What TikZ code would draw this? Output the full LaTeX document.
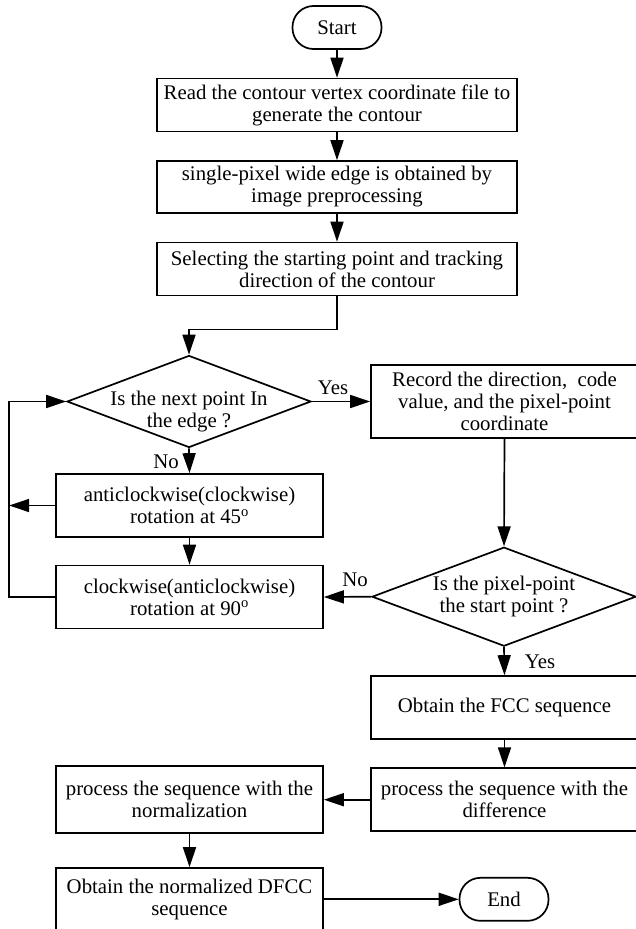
\documentclass[tikz,border=0pt]{standalone}
\usepackage{fontspec}
\setmainfont{Liberation Serif}
\usetikzlibrary{shapes,arrows.meta,positioning,calc}
\newcommand{\flowfont}{\fontsize{20.8}{22}\selectfont}
\tikzset{
  >={Triangle[length=20pt,width=13pt]},
  box/.style={draw,rectangle,minimum width=267pt,align=center,inner sep=2pt,font=\flowfont},
  wbox/.style={box,minimum width=360pt},
  dec/.style={draw,diamond,aspect=2.65,inner sep=-10pt,align=center,font=\flowfont},
  term/.style={draw,rounded corners=21pt,minimum width=89pt,minimum height=43pt,font=\flowfont},
  lbl/.style={font=\flowfont,inner sep=0pt}
}

\begin{document}
\begin{tikzpicture}[x=1pt,y=-1pt,line width=1.7pt]
\useasboundingbox (0,0) rectangle (635,929);
\node[term](start)at(337,27.5){Start};
\node[wbox,minimum height=53pt](read)at(337,105){Read the contour vertex coordinate file to\\generate the contour};
\node[wbox,minimum height=52pt](thin)at(337,187){single-pixel wide edge is obtained by\\image preprocessing};
\node[wbox,minimum height=53pt](sel)at(337,269){Selecting the starting point and tracking\\direction of the contour};
\node[dec,minimum width=244pt,minimum height=92pt](inedge)at(189,401.5){\raisebox{-26pt}[0pt][0pt]{\begin{tabular}[b]{@{}c@{}}Is the next point In\\the edge ?\end{tabular}}};
\node[box,minimum height=73pt](rec)at(504.5,401.5){Record the direction,~ code\\value, and the pixel-point\\coordinate};
\node[box,minimum height=63pt](rotA)at(189.5,505.5){anticlockwise(clockwise)\\rotation at 45\textsuperscript{o}};
\node[box,minimum height=63pt](rotB)at(189.5,597){clockwise(anticlockwise)\\rotation at 90\textsuperscript{o}};
\node[dec,minimum width=264pt,minimum height=99pt](isstart)at(504,596.7){Is the pixel-point\\the start point ?};
\node[box,minimum height=63pt](fcc)at(504.5,707.5){Obtain the FCC sequence};
\node[box,minimum height=63pt](diff)at(504.5,799.7){process the sequence with the\\difference};
\node[box,minimum height=67pt](norm)at(189.5,799.7){process the sequence with the\\normalization};
\node[box,minimum height=63pt](dfcc)at(189.5,899.5){Obtain the normalized DFCC\\sequence};
\node[term](end)at(504,899.3){End};
% branch labels
\node[lbl](yesA)at(333,388){Yes};
\node[lbl](noA)at(166,462){No};
\node[lbl](noB)at(355,580){No};
\node[lbl](yesB)at(540,662){Yes};
% main flow
\draw[->](start)--(read);\draw[->](read)--(thin);\draw[->](thin)--(sel);
\draw[->](sel.south)--++(0,33)-|(inedge.north);
\draw[->](inedge.east)--(rec.west);
\draw[->](inedge.south)--(rotA.north);
\draw[->](rotA.south)--(rotB.north);
\draw[->](rotA.west)--++(-46,0);
\draw[->](rotB.west)--++(-46,0)|-(inedge.west);
\draw[->](rec.south)--(isstart.north);
\draw[->](isstart.west)--(rotB.east);
\draw[->](isstart.south)--(fcc.north);
\draw[->](fcc)--(diff);
\draw[->](diff.west)--(norm.east);
\draw[->](norm)--(dfcc);
\draw[->](dfcc.east|-end.west)--(end.west);
\end{tikzpicture}
\end{document}
